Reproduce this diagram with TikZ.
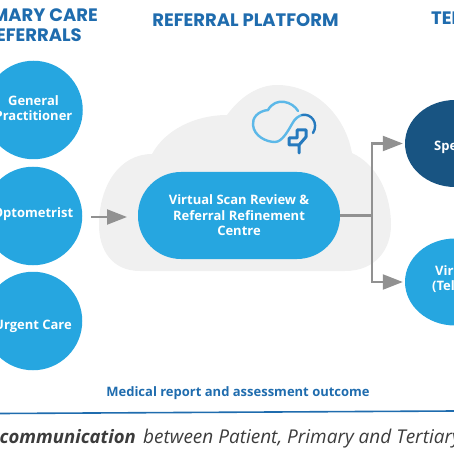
\documentclass[tikz,border=0pt]{standalone}
\usepackage{fontspec}
\setmainfont{Open Sans}
\newfontfamily\headfont{Poppins}
\usepackage{xcolor}
\definecolor{bubble}{RGB}{38, 166, 224}
\definecolor{darkbubble}{RGB}{24, 84, 130}
\definecolor{headblue}{RGB}{31, 108, 174}
\definecolor{cloudgrey}{RGB}{240, 240, 240}
\definecolor{arrowgrey}{RGB}{145, 145, 145}
\definecolor{iconlight}{RGB}{92, 184, 232}
\definecolor{icondark}{RGB}{38, 122, 190}
\definecolor{caption}{RGB}{60, 60, 60}
\usetikzlibrary{positioning,shapes.geometric,arrows.meta}
\tikzset{
  labelfont/.style={font=\fontsize{13}{15.5}\selectfont\bfseries},
  circlenode/.style={circle, fill=bubble, text=white, minimum size=98.5pt, inner sep=0pt, align=center, labelfont},
  ovalnode/.style={ellipse, fill=bubble, minimum width=100pt, minimum height=87pt, inner sep=0pt},
  ovaltext/.style={text=white, anchor=base west, inner sep=0pt, labelfont},
  headtext/.style={text=headblue, inner sep=0pt, font=\headfont\fontsize{18}{19}\selectfont\bfseries},
  flow/.style={draw=arrowgrey, line width=2.2pt, -{Triangle[length=20pt, width=15pt]}},
  flowline/.style={draw=arrowgrey, line width=2.2pt}
}
\begin{document}
\begin{tikzpicture}[x=1pt, y=-1pt]
  \useasboundingbox (0, 0) rectangle (454, 454);
  \clip (0, 0) rectangle (454, 454);
  % cloud behind the platform
  \fill[cloudgrey] (140, 271) .. controls (112, 271) and (99, 250) .. (99, 225)
    .. controls (99, 185) and (120, 154) .. (152, 154)
    .. controls (165, 130) and (195, 115) .. (227, 115)
    .. controls (240, 97) and (258, 85) .. (277, 85)
    .. controls (315, 85) and (345, 115) .. (352, 153)
    .. controls (378, 165) and (391, 195) .. (391, 225)
    .. controls (391, 250) and (375, 271) .. (345, 271) -- cycle;
  % cloud icon
  \draw[iconlight, line width=2.4pt, line cap=round] (298, 111)
    .. controls (293, 102) and (276, 96) .. (268, 110)
    .. controls (258, 111) and (252, 118) .. (253, 125)
    .. controls (254, 136) and (266, 142) .. (275, 142)
    .. controls (282, 142) and (288, 131) .. (292, 124)
    .. controls (295, 118) and (299, 116) .. (302, 115);
  \draw[icondark, line width=2.4pt, line cap=round] (302, 115)
    .. controls (311, 113) and (319, 123) .. (313, 133);
  \draw[icondark, line width=3pt, line cap=round, line join=round] (299, 153) -- (299, 145) -- (289, 145)
    -- (289, 138) -- (297, 138) -- (297, 130) -- (306, 130) -- (306, 137) -- (299, 145);
  % primary care
  \node[headtext, anchor=east] (primary) at (98, 15.5) {PRIMARY CARE};
  \node[headtext, anchor=east] (referrals) at (82, 35) {REFERRALS};
  \node[circlenode] (gp) at (33.5, 110) {General\\Practitioner\rule[-4pt]{0pt}{0pt}};
  \node[circlenode] (opto) at (33, 216) {\raisebox{-1.5pt}[0pt][0pt]{Optometrist}};
  \node[circlenode] (urgent) at (33, 321) {\raisebox{-8.5pt}[0pt][0pt]{Urgent Care}};
  % platform
  \node[headtext] (platform) at (245.5, 20) {REFERRAL PLATFORM};
  \node[rounded corners=43pt, fill=bubble, text=white, minimum width=202pt, minimum height=87pt, inner sep=0pt, align=center, labelfont] (centre) at (239, 215.5) {Virtual Scan Review \&\\Referral Refinement\\Centre};
  % tertiary care
  \node[headtext, anchor=west] (tertiary) at (431, 18) {TERTIARY};
  \node[ovalnode, fill=darkbubble] (spec) at (455, 143.5) {};
  \node[ovaltext] (spectext) at (434, 151) {Specialist};
  \node[ovalnode] (virtual) at (455, 282) {};
  \node[ovaltext] (virtualtext) at (435, 275) {Virtual};
  \node[ovaltext] (teletext) at (432, 290.5) {(Tele};
  % connectors
  \coordinate (optoend) at (91, 217);
  \coordinate (centreend) at (127, 217);
  \coordinate (split) at (372, 215.5);
  \draw[flow] (optoend) -- (centreend);
  \draw[flowline] (centre.east) -- (split);
  \draw[flow] (split) |- ([xshift=-2pt]spec.west);
  \draw[flow] (split) |- ([xshift=-2pt]virtual.west);
  % outcome and caption
  \node[text=headblue, inner sep=0pt, font=\fontsize{13}{15}\selectfont\bfseries] (outcome) at (238, 393) {Medical report and assessment outcome};
  \coordinate (ruleleft) at (0, 413.5);
  \coordinate (ruleright) at (454, 411);
  \draw[headblue, line width=1.6pt] (ruleleft) -- (ruleright);
  \node[text=caption, anchor=base east, inner sep=0pt, font=\fontsize{18.5}{20}\selectfont\itshape] (note) at (136, 443) {\textbf{communication}};
  \node[text=caption, anchor=base west, inner sep=0pt, font=\fontsize{19}{20}\selectfont\itshape] (notemore) at (143, 443) {between Patient, Primary and Tertiary};
\end{tikzpicture}
\end{document}
